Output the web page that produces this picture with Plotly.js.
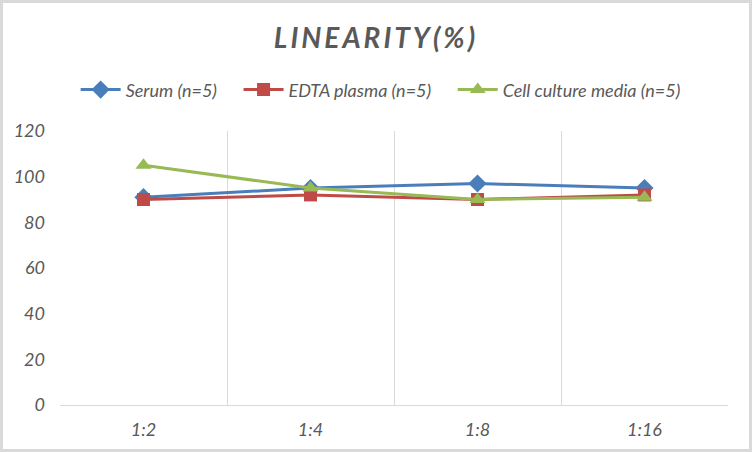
<!DOCTYPE html>
<html>
<head>
<meta charset="utf-8">
<script src="https://cdn.plot.ly/plotly-3.0.1.min.js"></script>
<style>
  html, body { margin: 0; padding: 0; background: #fff; }
  #wrap { position: relative; width: 752px; height: 452px; }
  #chart { width: 752px; height: 452px; }
  #frame { position: absolute; left: 0; top: 0; width: 752px; height: 452px;
           box-sizing: border-box; border: 3px solid #d9d9d9; pointer-events: none; }
</style>
</head>
<body>
<div id="wrap">
  <div id="chart"></div>
  <div id="frame"></div>
</div>
<script>
const dilutions = ['1:2', '1:4', '1:8', '1:16'];
const serum = [91, 95, 97, 95];
const edtaPlasma = [90, 92, 90, 92];
const cellCulture = [105, 95, 90, 91];

const txt = '#595959';
const baseFont = { family: 'Lato, "Open Sans", sans-serif', size: 18, color: txt, style: 'italic' };
const gap = '\u2002\u2002'; // extra room between legend items, like the original

function series(name, y, color, symbol, size) {
  return {
    x: dilutions, y: y, name: name,
    type: 'scatter', mode: 'lines+markers',
    line: { color: color, width: 3 },
    marker: { color: color, symbol: symbol, size: size, line: { width: 0 } }
  };
}

const traces = [
  series('Serum (n=5)' + gap, serum, '#4a7ebb', 'diamond', 14),
  series('EDTA plasma (n=5)' + gap, edtaPlasma, '#be4b48', 'square', 13),
  series('Cell culture media (n=5)', cellCulture, '#98b954', 'triangle-up', 14)
];

const layout = {
  width: 752, height: 452,
  margin: { l: 60, r: 24, t: 131, b: 47 },
  paper_bgcolor: '#fff', plot_bgcolor: '#fff',
  font: baseFont,
  title: {
    text: '<span style="letter-spacing:3px">LINEARITY(%)</span>',
    font: { family: 'Lato, "Open Sans", sans-serif', size: 28, color: txt, weight: 'bold', style: 'italic' },
    x: 0.5, xanchor: 'center', y: 0.915, yanchor: 'middle'
  },
  showlegend: true,
  legend: {
    orientation: 'h', x: 0.48, xanchor: 'center', y: 1.15, yanchor: 'middle',
    font: baseFont, itemwidth: 40, traceorder: 'normal'
  },
  xaxis: {
    type: 'category', range: [-0.5, 3.5],
    tickson: 'boundaries', showgrid: true, gridcolor: '#d9d9d9', gridwidth: 1,
    showline: true, linecolor: '#d9d9d9', linewidth: 1,
    ticks: '', tickfont: baseFont, ticklabelstandoff: 8,
    zeroline: false, fixedrange: true
  },
  yaxis: {
    range: [0, 120], dtick: 20, tick0: 0,
    showgrid: false, zeroline: false, showline: false,
    ticks: '', tickfont: baseFont, ticklabelstandoff: 14, fixedrange: true
  }
};

Plotly.newPlot('chart', traces, layout, { displayModeBar: false, staticPlot: true });
</script>
</body>
</html>
